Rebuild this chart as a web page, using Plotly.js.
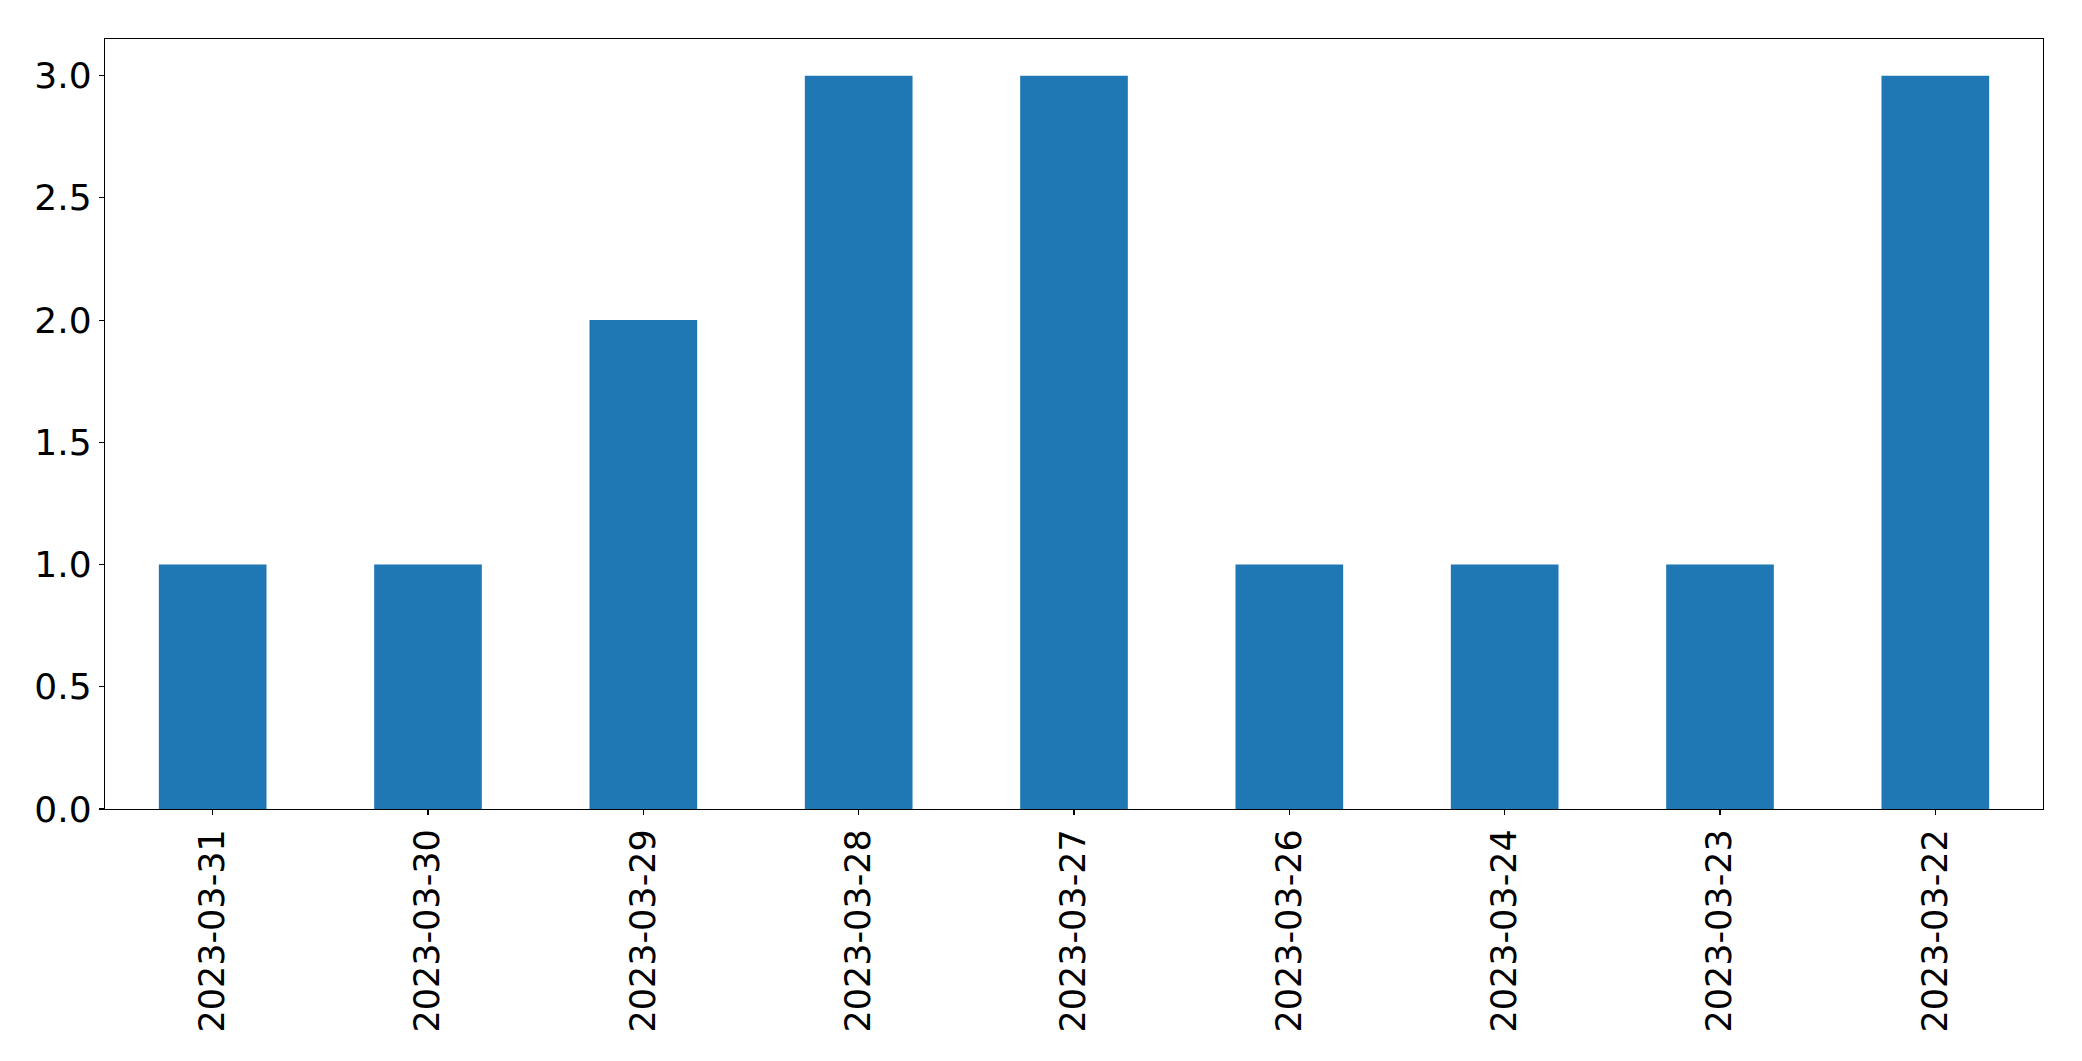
<!DOCTYPE html>
<html>
<head>
<meta charset="utf-8">
<script src="https://cdn.plot.ly/plotly-3.0.1.min.js"></script>
<style>html,body{margin:0;padding:0;background:#fff;}#chart{width:2082px;height:1061px;}</style>
</head>
<body>
<div id="chart"></div>
<script>
const dates = ["2023-03-31","2023-03-30","2023-03-29","2023-03-28","2023-03-27","2023-03-26","2023-03-24","2023-03-23","2023-03-22"];
const counts = [1,1,2,3,3,1,1,1,3];
const yTicks = [0,0.5,1,1.5,2,2.5,3];

const trace = {
  type: 'bar',
  x: dates,
  y: counts,
  width: 0.5,
  marker: {color: '#1f77b4', line: {width: 0}},
  hoverinfo: 'x+y'
};

const layout = {
  width: 2082,
  height: 1061,
  margin: {l: 105, r: 39, t: 39, b: 252},
  paper_bgcolor: '#ffffff',
  plot_bgcolor: '#ffffff',
  showlegend: false,
  font: {family: 'DejaVu Sans', size: 35, color: '#000000'},
  xaxis: {
    type: 'category',
    range: [-0.5, 8.5],
    tickangle: -90,
    ticks: 'outside',
    ticklen: 5,
    tickwidth: 1.2,
    tickcolor: '#000',
    showline: true,
    linecolor: '#000',
    linewidth: 1.2,
    mirror: true,
    showgrid: false,
    zeroline: false,
    ticklabelstandoff: 0,
    tickfont: {family: 'DejaVu Sans', size: 35, color: '#000'}
  },
  yaxis: {
    range: [0, 3.15],
    tickvals: yTicks,
    tickformat: '.1f',
    ticks: 'outside',
    ticklen: 5,
    tickwidth: 1.2,
    tickcolor: '#000',
    showline: true,
    linecolor: '#000',
    linewidth: 1.2,
    mirror: true,
    showgrid: false,
    zeroline: false,
    ticklabelstandoff: 0,
    tickfont: {family: 'DejaVu Sans', size: 36, color: '#000'}
  }
};

Plotly.newPlot('chart', [trace], layout, {displayModeBar: false, staticPlot: true});
</script>
</body>
</html>
